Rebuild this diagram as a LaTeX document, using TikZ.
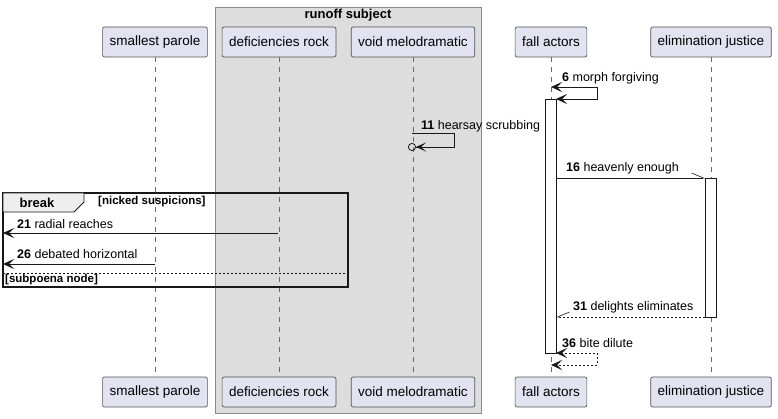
\documentclass[tikz,border=0pt]{standalone}
\usepackage{fontspec}
\setmainfont{Liberation Sans}
\usetikzlibrary{arrows.meta,positioning,shapes}
\definecolor{partfill}{HTML}{E2E2F0}
\definecolor{grpfill}{HTML}{DDDDDD}
\definecolor{tabfill}{HTML}{EEEEEE}
\definecolor{ink}{HTML}{181818}
\tikzset{
  participant/.style={draw=ink!75, fill=partfill, rounded corners=2pt, line width=0.7pt,
    minimum height=30pt, inner xsep=7pt, font=\fontsize{13.5}{15}\selectfont},
  lifeline/.style={draw=ink!65, line width=0.7pt, dash pattern=on 5pt off 5pt},
  actbar/.style={draw=ink, fill=white, line width=0.9pt, inner sep=0pt, outer sep=0pt, minimum width=11pt},
  tip/.tip={Stealth[length=11pt,width=10pt,inset=5pt,line width=1.2pt]},
  msg/.style={draw=ink, line width=0.8pt, -tip},
  reply/.style={msg, dash pattern=on 2pt off 2pt},
  halfmsg/.style={draw=ink, line width=0.8pt, -{Straight Barb[#1,length=12pt,width=10pt,line width=0.6pt]}},
  msglabel/.style={anchor=west, inner sep=0pt, font=\fontsize{12.5}{14}\selectfont},
  grpbox/.style={draw=ink!50, fill=grpfill, line width=0.8pt},
}
\begin{document}
\begin{tikzpicture}[x=1pt,y=-1pt]
  \useasboundingbox (0,0) rectangle (778,419);

  \newcommand\Top{42}
  \newcommand\Bot{392}

  %% runoff subject
  \draw[grpbox] (215,7) rectangle (481,413);
  \node[font=\fontsize{13}{15}\selectfont\bfseries, inner sep=0pt] (grp) at (348,15) {runoff subject};

  \node[participant] (spT) at (155,\Top) {smallest parole};
  \node[participant] (drT) at (279,\Top) {deficiencies rock};
  \node[participant] (vmT) at (413,\Top) {void melodramatic};
  \node[participant] (faT) at (551,\Top) {fall actors};
  \node[participant] (ejT) at (711,\Top) {elimination justice};
  \node[participant] (spB) at (155,\Bot) {smallest parole};
  \node[participant] (drB) at (279,\Bot) {deficiencies rock};
  \node[participant] (vmB) at (413,\Bot) {void melodramatic};
  \node[participant] (faB) at (551,\Bot) {fall actors};
  \node[participant] (ejB) at (711,\Bot) {elimination justice};

  \draw[lifeline] (spT) -- (spB);
  \draw[lifeline] (drT) -- (drB);
  \draw[lifeline] (vmT) -- (vmB);
  \draw[lifeline] (faT) -- (faB);
  \draw[lifeline] (ejT) -- (ejB);

  \node[actbar, minimum height=254pt] (faAct) at (550.5,226) {};
  \node[actbar, minimum height=139pt] (ejAct) at (710.5,247.5) {};

  \coordinate (m6s) at (551,87);
  \coordinate (m11s) at (412,133);
  \coordinate (m11e) at (408,147);
  \coordinate (m21s) at (278,233);
  \coordinate (m21e) at (3,233);
  \coordinate (m26s) at (154.5,264);
  \coordinate (m26e) at (3,264);
  \coordinate (m36e) at (551,365);

  \draw[msg, tip-tip] (m6s) -- ++(46,0) |- (faAct.north east); %% 6
  \node[msglabel] (l6) at (562,78) {\textbf{6} morph forgiving};

  \draw[msg, -{tip[length=10pt,width=9pt]Circle[open,length=8pt,width=8pt,line width=0.8pt]}]
    (m11s) -- ++(42,0) |- (m11e); %% 11
  \node[msglabel] (l11) at (421,126) {\textbf{11} hearsay scrubbing};

  \draw[halfmsg=left] (faAct.east |- ejAct.north) -- (ejAct.north west); %% 16
  \node[msglabel] (l16) at (566,168) {\textbf{16} heavenly enough};

  %% break
  \draw[draw=ink, line width=1.6pt] (3,193) rectangle (348,287);
  \draw[draw=ink, fill=tabfill, line width=0.8pt] (3,193) -- (84,193) -- (84,202) -- (74,212) -- (3,212) -- cycle;
  \node[font=\fontsize{13}{15}\selectfont\bfseries, inner sep=0pt] (brk) at (37,203) {break};
  \node[font=\fontsize{11.5}{13}\selectfont\bfseries, inner sep=0pt, anchor=west] (brkc) at (98,202) {[nicked suspicions]};

  \draw[msg] (m21s) -- (m21e); %% 21
  \node[msglabel] (l21) at (17,224) {\textbf{21} radial reaches};
  \draw[msg] (m26s) -- (m26e); %% 26
  \node[msglabel] (l26) at (17,254) {\textbf{26} debated horizontal};

  \draw[draw=ink, line width=0.8pt, dash pattern=on 2pt off 2pt] (3,273) -- (348,273);
  \node[font=\fontsize{11.5}{13}\selectfont\bfseries, inner sep=0pt, anchor=west] (brke) at (5,280) {[subpoena node]};

  \draw[halfmsg=right, dash pattern=on 2pt off 2pt] (ejAct.south west) -- (faAct.east |- ejAct.south); %% 31
  \node[msglabel] (l31) at (573,307) {\textbf{31} delights eliminates};

  \draw[reply, tip-tip] (faAct.south east) -- ++(41,0) |- (m36e); %% 36
  \node[msglabel] (l36) at (562,343) {\textbf{36} bite dilute};

\end{tikzpicture}
\end{document}
